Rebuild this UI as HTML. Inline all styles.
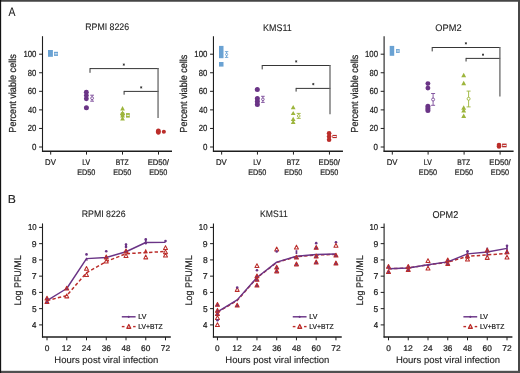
<!DOCTYPE html>
<html><head><meta charset="utf-8"><style>
html,body{margin:0;padding:0;background:#fff;width:520px;height:373px;overflow:hidden}
svg{display:block;font-family:"Liberation Sans", sans-serif;will-change:transform;filter:blur(0.3px)}
</style></head><body>
<svg width="520" height="373" viewBox="0 0 520 373" font-family="Liberation Sans, sans-serif" text-rendering="geometricPrecision">
<rect x="0" y="0" width="520" height="373" fill="#ffffff"/>
<text x="8.38" y="15.70" font-size="12.35" textLength="6.94" lengthAdjust="spacingAndGlyphs" fill="#222" stroke="#222" stroke-width="0.1">A</text>
<text x="7.80" y="203.00" font-size="11.63" textLength="8.15" lengthAdjust="spacingAndGlyphs" fill="#222" stroke="#222" stroke-width="0.1">B</text>
<line x1="42.50" y1="36.20" x2="42.50" y2="151.75" stroke="#1e1e1e" stroke-width="1.1" />
<line x1="41.95" y1="151.20" x2="172.00" y2="151.20" stroke="#1e1e1e" stroke-width="1.35" />
<line x1="39.10" y1="147.00" x2="42.50" y2="147.00" stroke="#1e1e1e" stroke-width="1.0" />
<text x="31.99" y="150.05" font-size="8.87" textLength="4.42" lengthAdjust="spacingAndGlyphs" fill="#222" stroke="#222" stroke-width="0.22">0</text>
<line x1="39.10" y1="128.44" x2="42.50" y2="128.44" stroke="#1e1e1e" stroke-width="1.0" />
<text x="27.81" y="131.49" font-size="8.87" textLength="8.59" lengthAdjust="spacingAndGlyphs" fill="#222" stroke="#222" stroke-width="0.22">20</text>
<line x1="39.10" y1="109.88" x2="42.50" y2="109.88" stroke="#1e1e1e" stroke-width="1.0" />
<text x="28.03" y="112.93" font-size="8.87" textLength="8.37" lengthAdjust="spacingAndGlyphs" fill="#222" stroke="#222" stroke-width="0.22">40</text>
<line x1="39.10" y1="91.32" x2="42.50" y2="91.32" stroke="#1e1e1e" stroke-width="1.0" />
<text x="27.81" y="94.37" font-size="8.87" textLength="8.59" lengthAdjust="spacingAndGlyphs" fill="#222" stroke="#222" stroke-width="0.22">60</text>
<line x1="39.10" y1="72.76" x2="42.50" y2="72.76" stroke="#1e1e1e" stroke-width="1.0" />
<text x="27.87" y="75.81" font-size="8.87" textLength="8.53" lengthAdjust="spacingAndGlyphs" fill="#222" stroke="#222" stroke-width="0.22">80</text>
<line x1="39.10" y1="54.20" x2="42.50" y2="54.20" stroke="#1e1e1e" stroke-width="1.0" />
<text x="23.41" y="57.25" font-size="8.87" textLength="13.00" lengthAdjust="spacingAndGlyphs" fill="#222" stroke="#222" stroke-width="0.22">100</text>
<line x1="50.70" y1="151.20" x2="50.70" y2="154.60" stroke="#1e1e1e" stroke-width="1.0" />
<line x1="86.50" y1="151.20" x2="86.50" y2="154.60" stroke="#1e1e1e" stroke-width="1.0" />
<line x1="122.50" y1="151.20" x2="122.50" y2="154.60" stroke="#1e1e1e" stroke-width="1.0" />
<line x1="158.50" y1="151.20" x2="158.50" y2="154.60" stroke="#1e1e1e" stroke-width="1.0" />
<text x="45.06" y="164.80" font-size="8.28" textLength="10.77" lengthAdjust="spacingAndGlyphs" fill="#222" stroke="#222" stroke-width="0.22">DV</text>
<text x="82.27" y="164.80" font-size="8.14" textLength="7.86" lengthAdjust="spacingAndGlyphs" fill="#222" stroke="#222" stroke-width="0.22">LV</text>
<text x="77.20" y="174.90" font-size="8.14" textLength="18.18" lengthAdjust="spacingAndGlyphs" fill="#222" stroke="#222" stroke-width="0.22">ED50</text>
<text x="115.74" y="164.80" font-size="8.14" textLength="12.87" lengthAdjust="spacingAndGlyphs" fill="#222" stroke="#222" stroke-width="0.22">BTZ</text>
<text x="113.20" y="174.90" font-size="8.14" textLength="18.18" lengthAdjust="spacingAndGlyphs" fill="#222" stroke="#222" stroke-width="0.22">ED50</text>
<text x="147.67" y="164.80" font-size="8.14" textLength="21.33" lengthAdjust="spacingAndGlyphs" fill="#222" stroke="#222" stroke-width="0.22">ED50/</text>
<text x="149.20" y="174.90" font-size="8.14" textLength="18.18" lengthAdjust="spacingAndGlyphs" fill="#222" stroke="#222" stroke-width="0.22">ED50</text>
<g transform="translate(16.20,132.65) rotate(-90)"><text x="0" y="0" font-size="10.17" textLength="78.48" lengthAdjust="spacingAndGlyphs" fill="#222" stroke="#222" stroke-width="0.22">Percent viable cells</text></g>
<text x="85.28" y="30.40" font-size="9.59" textLength="43.80" lengthAdjust="spacingAndGlyphs" fill="#222" stroke="#222" stroke-width="0.1">RPMI 8226</text>
<rect x="48.00" y="50.00" width="4.90" height="6.80" fill="#6aa2d3"/>
<rect x="54.00" y="51.80" width="4.00" height="4.10" fill="#6aa2d3"/>
<rect x="54.60" y="53.35" width="3.00" height="1.00" fill="#eef3f8"/>
<circle cx="86.35" cy="92.15" r="2.45" fill="#6a3486" stroke="none" stroke-width="0"/>
<circle cx="86.35" cy="95.50" r="2.45" fill="#6a3486" stroke="none" stroke-width="0"/>
<circle cx="86.35" cy="98.85" r="2.45" fill="#6a3486" stroke="none" stroke-width="0"/>
<circle cx="86.40" cy="107.80" r="2.50" fill="#6a3486" stroke="none" stroke-width="0"/>
<line x1="92.10" y1="95.20" x2="92.10" y2="101.20" stroke="#7a4a98" stroke-width="0.9" />
<line x1="90.20" y1="95.20" x2="94.00" y2="95.20" stroke="#7a4a98" stroke-width="0.9" />
<line x1="90.20" y1="101.20" x2="94.00" y2="101.20" stroke="#7a4a98" stroke-width="0.9" />
<circle cx="92.10" cy="98.20" r="1.40" fill="white" stroke="#7a4a98" stroke-width="0.9"/>
<path d="M122.55,106.00 L124.90,110.40 L120.20,110.40 Z" fill="#9db53c" stroke="none" stroke-width="0" stroke-linejoin="round"/>
<path d="M122.55,110.60 L124.90,115.00 L120.20,115.00 Z" fill="#9db53c" stroke="none" stroke-width="0" stroke-linejoin="round"/>
<path d="M122.55,113.00 L124.90,117.40 L120.20,117.40 Z" fill="#9db53c" stroke="none" stroke-width="0" stroke-linejoin="round"/>
<path d="M122.55,116.10 L124.90,120.50 L120.20,120.50 Z" fill="#9db53c" stroke="none" stroke-width="0" stroke-linejoin="round"/>
<ellipse cx="122.55" cy="114.3" rx="2.2" ry="2.6" fill="#9db53c"/>
<rect x="126.00" y="113.10" width="3.80" height="4.50" fill="#9db53c"/>
<rect x="126.60" y="114.85" width="2.80" height="1.00" fill="#eef3f8"/>
<ellipse cx="158.35" cy="131.55" rx="2.5" ry="3.15" fill="#bb2d2a"/>
<circle cx="163.85" cy="131.75" r="2.05" fill="#bb2d2a" stroke="none" stroke-width="0"/>
<line x1="90.00" y1="68.60" x2="158.60" y2="68.60" stroke="#363636" stroke-width="1" />
<line x1="90.00" y1="68.10" x2="90.00" y2="72.80" stroke="#363636" stroke-width="1" />
<line x1="124.10" y1="91.40" x2="158.60" y2="91.40" stroke="#363636" stroke-width="1" />
<line x1="124.10" y1="90.90" x2="124.10" y2="94.70" stroke="#363636" stroke-width="1" />
<line x1="158.05" y1="68.10" x2="158.05" y2="118.00" stroke="#686868" stroke-width="1.3" />
<path d="M123.80,63.45 L123.80,65.75 M124.80,64.02 L122.80,65.17 M124.80,65.17 L122.80,64.02 " stroke="#2a2a2a" stroke-width="0.75" fill="none"/>
<path d="M141.20,86.25 L141.20,88.55 M142.20,86.83 L140.20,87.98 M142.20,87.98 L140.20,86.83 " stroke="#2a2a2a" stroke-width="0.75" fill="none"/>
<line x1="213.45" y1="36.20" x2="213.45" y2="151.75" stroke="#1e1e1e" stroke-width="1.1" />
<line x1="212.90" y1="151.20" x2="342.95" y2="151.20" stroke="#1e1e1e" stroke-width="1.35" />
<line x1="210.05" y1="147.00" x2="213.45" y2="147.00" stroke="#1e1e1e" stroke-width="1.0" />
<text x="202.94" y="150.05" font-size="8.87" textLength="4.42" lengthAdjust="spacingAndGlyphs" fill="#222" stroke="#222" stroke-width="0.22">0</text>
<line x1="210.05" y1="128.44" x2="213.45" y2="128.44" stroke="#1e1e1e" stroke-width="1.0" />
<text x="198.76" y="131.49" font-size="8.87" textLength="8.59" lengthAdjust="spacingAndGlyphs" fill="#222" stroke="#222" stroke-width="0.22">20</text>
<line x1="210.05" y1="109.88" x2="213.45" y2="109.88" stroke="#1e1e1e" stroke-width="1.0" />
<text x="198.98" y="112.93" font-size="8.87" textLength="8.37" lengthAdjust="spacingAndGlyphs" fill="#222" stroke="#222" stroke-width="0.22">40</text>
<line x1="210.05" y1="91.32" x2="213.45" y2="91.32" stroke="#1e1e1e" stroke-width="1.0" />
<text x="198.76" y="94.37" font-size="8.87" textLength="8.59" lengthAdjust="spacingAndGlyphs" fill="#222" stroke="#222" stroke-width="0.22">60</text>
<line x1="210.05" y1="72.76" x2="213.45" y2="72.76" stroke="#1e1e1e" stroke-width="1.0" />
<text x="198.82" y="75.81" font-size="8.87" textLength="8.53" lengthAdjust="spacingAndGlyphs" fill="#222" stroke="#222" stroke-width="0.22">80</text>
<line x1="210.05" y1="54.20" x2="213.45" y2="54.20" stroke="#1e1e1e" stroke-width="1.0" />
<text x="194.36" y="57.25" font-size="8.87" textLength="13.00" lengthAdjust="spacingAndGlyphs" fill="#222" stroke="#222" stroke-width="0.22">100</text>
<line x1="221.65" y1="151.20" x2="221.65" y2="154.60" stroke="#1e1e1e" stroke-width="1.0" />
<line x1="257.45" y1="151.20" x2="257.45" y2="154.60" stroke="#1e1e1e" stroke-width="1.0" />
<line x1="293.45" y1="151.20" x2="293.45" y2="154.60" stroke="#1e1e1e" stroke-width="1.0" />
<line x1="329.45" y1="151.20" x2="329.45" y2="154.60" stroke="#1e1e1e" stroke-width="1.0" />
<text x="216.01" y="164.80" font-size="8.28" textLength="10.77" lengthAdjust="spacingAndGlyphs" fill="#222" stroke="#222" stroke-width="0.22">DV</text>
<text x="253.22" y="164.80" font-size="8.14" textLength="7.86" lengthAdjust="spacingAndGlyphs" fill="#222" stroke="#222" stroke-width="0.22">LV</text>
<text x="248.15" y="174.90" font-size="8.14" textLength="18.18" lengthAdjust="spacingAndGlyphs" fill="#222" stroke="#222" stroke-width="0.22">ED50</text>
<text x="286.69" y="164.80" font-size="8.14" textLength="12.87" lengthAdjust="spacingAndGlyphs" fill="#222" stroke="#222" stroke-width="0.22">BTZ</text>
<text x="284.15" y="174.90" font-size="8.14" textLength="18.18" lengthAdjust="spacingAndGlyphs" fill="#222" stroke="#222" stroke-width="0.22">ED50</text>
<text x="318.62" y="164.80" font-size="8.14" textLength="21.33" lengthAdjust="spacingAndGlyphs" fill="#222" stroke="#222" stroke-width="0.22">ED50/</text>
<text x="320.15" y="174.90" font-size="8.14" textLength="18.18" lengthAdjust="spacingAndGlyphs" fill="#222" stroke="#222" stroke-width="0.22">ED50</text>
<g transform="translate(187.15,132.64) rotate(-90)"><text x="0" y="0" font-size="10.17" textLength="77.97" lengthAdjust="spacingAndGlyphs" fill="#222" stroke="#222" stroke-width="0.22">Percent viable cells</text></g>
<text x="263.08" y="30.60" font-size="9.59" textLength="28.64" lengthAdjust="spacingAndGlyphs" fill="#222" stroke="#222" stroke-width="0.1">KMS11</text>
<rect x="219.00" y="45.90" width="4.50" height="12.30" fill="#6aa2d3"/>
<rect x="219.00" y="62.00" width="4.50" height="4.60" fill="#6aa2d3"/>
<line x1="226.60" y1="51.60" x2="226.60" y2="57.40" stroke="#6aa2d3" stroke-width="0.9" />
<line x1="224.90" y1="51.60" x2="228.30" y2="51.60" stroke="#6aa2d3" stroke-width="0.9" />
<line x1="224.90" y1="57.40" x2="228.30" y2="57.40" stroke="#6aa2d3" stroke-width="0.9" />
<circle cx="226.60" cy="54.50" r="1.10" fill="white" stroke="#6aa2d3" stroke-width="0.9"/>
<circle cx="257.30" cy="89.50" r="2.50" fill="#6a3486" stroke="none" stroke-width="0"/>
<circle cx="257.35" cy="98.60" r="2.50" fill="#6a3486" stroke="none" stroke-width="0"/>
<circle cx="257.35" cy="101.55" r="2.50" fill="#6a3486" stroke="none" stroke-width="0"/>
<circle cx="257.35" cy="104.50" r="2.50" fill="#6a3486" stroke="none" stroke-width="0"/>
<line x1="262.90" y1="96.30" x2="262.90" y2="102.40" stroke="#7a4a98" stroke-width="0.9" />
<line x1="261.10" y1="96.30" x2="264.70" y2="96.30" stroke="#7a4a98" stroke-width="0.9" />
<line x1="261.10" y1="102.40" x2="264.70" y2="102.40" stroke="#7a4a98" stroke-width="0.9" />
<circle cx="262.90" cy="99.30" r="1.30" fill="white" stroke="#7a4a98" stroke-width="0.9"/>
<path d="M293.20,105.10 L295.60,109.30 L290.80,109.30 Z" fill="#9db53c" stroke="none" stroke-width="0" stroke-linejoin="round"/>
<path d="M293.20,110.90 L295.60,115.10 L290.80,115.10 Z" fill="#9db53c" stroke="none" stroke-width="0" stroke-linejoin="round"/>
<path d="M293.20,116.70 L295.60,120.90 L290.80,120.90 Z" fill="#9db53c" stroke="none" stroke-width="0" stroke-linejoin="round"/>
<path d="M293.20,119.80 L295.60,124.00 L290.80,124.00 Z" fill="#9db53c" stroke="none" stroke-width="0" stroke-linejoin="round"/>
<line x1="298.70" y1="113.40" x2="298.70" y2="118.40" stroke="#9db53c" stroke-width="0.9" />
<line x1="296.70" y1="113.40" x2="300.70" y2="113.40" stroke="#9db53c" stroke-width="0.9" />
<line x1="296.70" y1="118.40" x2="300.70" y2="118.40" stroke="#9db53c" stroke-width="0.9" />
<circle cx="298.70" cy="115.90" r="1.30" fill="white" stroke="#9db53c" stroke-width="0.9"/>
<circle cx="329.10" cy="133.30" r="2.30" fill="#bb2d2a" stroke="none" stroke-width="0"/>
<circle cx="329.10" cy="136.55" r="2.30" fill="#bb2d2a" stroke="none" stroke-width="0"/>
<circle cx="329.10" cy="139.80" r="2.30" fill="#bb2d2a" stroke="none" stroke-width="0"/>
<rect x="332.40" y="134.90" width="4.40" height="3.20" fill="#bb2d2a"/>
<rect x="333.00" y="136.00" width="3.40" height="1.00" fill="#eef3f8"/>
<line x1="262.20" y1="65.50" x2="330.40" y2="65.50" stroke="#363636" stroke-width="1" />
<line x1="262.20" y1="65.00" x2="262.20" y2="69.40" stroke="#363636" stroke-width="1" />
<line x1="296.10" y1="88.40" x2="330.40" y2="88.40" stroke="#363636" stroke-width="1" />
<line x1="296.10" y1="87.90" x2="296.10" y2="91.60" stroke="#363636" stroke-width="1" />
<line x1="330.00" y1="64.90" x2="330.00" y2="114.30" stroke="#686868" stroke-width="1.3" />
<path d="M296.20,60.25 L296.20,62.55 M297.20,60.82 L295.20,61.98 M297.20,61.98 L295.20,60.82 " stroke="#2a2a2a" stroke-width="0.75" fill="none"/>
<path d="M313.30,82.95 L313.30,85.25 M314.30,83.52 L312.30,84.67 M314.30,84.67 L312.30,83.52 " stroke="#2a2a2a" stroke-width="0.75" fill="none"/>
<line x1="384.10" y1="36.20" x2="384.10" y2="151.75" stroke="#1e1e1e" stroke-width="1.1" />
<line x1="383.55" y1="151.20" x2="513.60" y2="151.20" stroke="#1e1e1e" stroke-width="1.35" />
<line x1="380.70" y1="147.00" x2="384.10" y2="147.00" stroke="#1e1e1e" stroke-width="1.0" />
<text x="373.59" y="150.05" font-size="8.87" textLength="4.42" lengthAdjust="spacingAndGlyphs" fill="#222" stroke="#222" stroke-width="0.22">0</text>
<line x1="380.70" y1="128.44" x2="384.10" y2="128.44" stroke="#1e1e1e" stroke-width="1.0" />
<text x="369.41" y="131.49" font-size="8.87" textLength="8.59" lengthAdjust="spacingAndGlyphs" fill="#222" stroke="#222" stroke-width="0.22">20</text>
<line x1="380.70" y1="109.88" x2="384.10" y2="109.88" stroke="#1e1e1e" stroke-width="1.0" />
<text x="369.63" y="112.93" font-size="8.87" textLength="8.37" lengthAdjust="spacingAndGlyphs" fill="#222" stroke="#222" stroke-width="0.22">40</text>
<line x1="380.70" y1="91.32" x2="384.10" y2="91.32" stroke="#1e1e1e" stroke-width="1.0" />
<text x="369.41" y="94.37" font-size="8.87" textLength="8.59" lengthAdjust="spacingAndGlyphs" fill="#222" stroke="#222" stroke-width="0.22">60</text>
<line x1="380.70" y1="72.76" x2="384.10" y2="72.76" stroke="#1e1e1e" stroke-width="1.0" />
<text x="369.47" y="75.81" font-size="8.87" textLength="8.53" lengthAdjust="spacingAndGlyphs" fill="#222" stroke="#222" stroke-width="0.22">80</text>
<line x1="380.70" y1="54.20" x2="384.10" y2="54.20" stroke="#1e1e1e" stroke-width="1.0" />
<text x="365.01" y="57.25" font-size="8.87" textLength="13.00" lengthAdjust="spacingAndGlyphs" fill="#222" stroke="#222" stroke-width="0.22">100</text>
<line x1="392.30" y1="151.20" x2="392.30" y2="154.60" stroke="#1e1e1e" stroke-width="1.0" />
<line x1="428.10" y1="151.20" x2="428.10" y2="154.60" stroke="#1e1e1e" stroke-width="1.0" />
<line x1="464.10" y1="151.20" x2="464.10" y2="154.60" stroke="#1e1e1e" stroke-width="1.0" />
<line x1="500.10" y1="151.20" x2="500.10" y2="154.60" stroke="#1e1e1e" stroke-width="1.0" />
<text x="386.66" y="164.80" font-size="8.28" textLength="10.77" lengthAdjust="spacingAndGlyphs" fill="#222" stroke="#222" stroke-width="0.22">DV</text>
<text x="423.87" y="164.80" font-size="8.14" textLength="7.86" lengthAdjust="spacingAndGlyphs" fill="#222" stroke="#222" stroke-width="0.22">LV</text>
<text x="418.80" y="174.90" font-size="8.14" textLength="18.18" lengthAdjust="spacingAndGlyphs" fill="#222" stroke="#222" stroke-width="0.22">ED50</text>
<text x="457.34" y="164.80" font-size="8.14" textLength="12.87" lengthAdjust="spacingAndGlyphs" fill="#222" stroke="#222" stroke-width="0.22">BTZ</text>
<text x="454.80" y="174.90" font-size="8.14" textLength="18.18" lengthAdjust="spacingAndGlyphs" fill="#222" stroke="#222" stroke-width="0.22">ED50</text>
<text x="489.27" y="164.80" font-size="8.14" textLength="21.33" lengthAdjust="spacingAndGlyphs" fill="#222" stroke="#222" stroke-width="0.22">ED50/</text>
<text x="490.80" y="174.90" font-size="8.14" textLength="18.18" lengthAdjust="spacingAndGlyphs" fill="#222" stroke="#222" stroke-width="0.22">ED50</text>
<g transform="translate(357.80,132.64) rotate(-90)"><text x="0" y="0" font-size="10.17" textLength="77.97" lengthAdjust="spacingAndGlyphs" fill="#222" stroke="#222" stroke-width="0.22">Percent viable cells</text></g>
<text x="435.36" y="31.00" font-size="9.59" textLength="26.20" lengthAdjust="spacingAndGlyphs" fill="#222" stroke="#222" stroke-width="0.1">OPM2</text>
<rect x="389.70" y="45.90" width="4.50" height="9.90" fill="#6aa2d3"/>
<rect x="396.00" y="49.10" width="3.70" height="3.80" fill="#6aa2d3"/>
<rect x="396.60" y="50.50" width="2.70" height="1.00" fill="#eef3f8"/>
<circle cx="427.90" cy="83.60" r="2.45" fill="#6a3486" stroke="none" stroke-width="0"/>
<circle cx="427.90" cy="88.10" r="2.45" fill="#6a3486" stroke="none" stroke-width="0"/>
<circle cx="427.90" cy="106.30" r="2.50" fill="#6a3486" stroke="none" stroke-width="0"/>
<circle cx="427.90" cy="108.45" r="2.50" fill="#6a3486" stroke="none" stroke-width="0"/>
<circle cx="427.90" cy="110.60" r="2.50" fill="#6a3486" stroke="none" stroke-width="0"/>
<line x1="433.10" y1="93.50" x2="433.10" y2="105.30" stroke="#7a4a98" stroke-width="0.9" />
<line x1="431.10" y1="93.50" x2="435.10" y2="93.50" stroke="#7a4a98" stroke-width="0.9" />
<line x1="431.10" y1="105.30" x2="435.10" y2="105.30" stroke="#7a4a98" stroke-width="0.9" />
<circle cx="433.10" cy="99.50" r="1.50" fill="white" stroke="#7a4a98" stroke-width="0.9"/>
<path d="M463.70,72.85 L466.15,77.35 L461.25,77.35 Z" fill="#9db53c" stroke="none" stroke-width="0" stroke-linejoin="round"/>
<path d="M463.70,80.75 L466.15,85.25 L461.25,85.25 Z" fill="#9db53c" stroke="none" stroke-width="0" stroke-linejoin="round"/>
<path d="M463.70,105.35 L466.15,109.85 L461.25,109.85 Z" fill="#9db53c" stroke="none" stroke-width="0" stroke-linejoin="round"/>
<path d="M463.70,107.95 L466.15,112.45 L461.25,112.45 Z" fill="#9db53c" stroke="none" stroke-width="0" stroke-linejoin="round"/>
<path d="M463.70,113.55 L466.15,118.05 L461.25,118.05 Z" fill="#9db53c" stroke="none" stroke-width="0" stroke-linejoin="round"/>
<line x1="468.60" y1="91.10" x2="468.60" y2="106.90" stroke="#9db53c" stroke-width="0.9" />
<line x1="466.60" y1="91.10" x2="470.60" y2="91.10" stroke="#9db53c" stroke-width="0.9" />
<line x1="466.60" y1="106.90" x2="470.60" y2="106.90" stroke="#9db53c" stroke-width="0.9" />
<circle cx="468.60" cy="98.80" r="1.50" fill="white" stroke="#9db53c" stroke-width="0.9"/>
<circle cx="499.00" cy="145.05" r="2.30" fill="#bb2d2a" stroke="none" stroke-width="0"/>
<circle cx="499.00" cy="146.45" r="2.30" fill="#bb2d2a" stroke="none" stroke-width="0"/>
<rect x="502.10" y="143.60" width="4.50" height="3.70" fill="#bb2d2a"/>
<rect x="502.70" y="144.95" width="3.50" height="1.00" fill="#eef3f8"/>
<line x1="432.20" y1="47.50" x2="500.20" y2="47.50" stroke="#363636" stroke-width="1" />
<line x1="432.20" y1="47.00" x2="432.20" y2="51.40" stroke="#363636" stroke-width="1" />
<line x1="466.05" y1="58.40" x2="500.20" y2="58.40" stroke="#363636" stroke-width="1" />
<line x1="466.05" y1="57.90" x2="466.05" y2="61.50" stroke="#363636" stroke-width="1" />
<line x1="499.90" y1="46.90" x2="499.90" y2="96.40" stroke="#686868" stroke-width="1.3" />
<path d="M465.90,42.15 L465.90,44.45 M466.90,42.72 L464.90,43.88 M466.90,43.88 L464.90,42.72 " stroke="#2a2a2a" stroke-width="0.75" fill="none"/>
<path d="M483.00,53.55 L483.00,55.85 M484.00,54.12 L482.00,55.28 M484.00,55.28 L482.00,54.12 " stroke="#2a2a2a" stroke-width="0.75" fill="none"/>
<line x1="42.50" y1="223.40" x2="42.50" y2="337.55" stroke="#1e1e1e" stroke-width="1.1" />
<line x1="41.95" y1="337.00" x2="170.80" y2="337.00" stroke="#1e1e1e" stroke-width="1.45" />
<line x1="39.10" y1="324.90" x2="42.50" y2="324.90" stroke="#1e1e1e" stroke-width="1.0" />
<text x="32.12" y="327.85" font-size="8.58" textLength="4.41" lengthAdjust="spacingAndGlyphs" fill="#222" stroke="#222" stroke-width="0.22">4</text>
<line x1="39.10" y1="308.65" x2="42.50" y2="308.65" stroke="#1e1e1e" stroke-width="1.0" />
<text x="31.96" y="311.60" font-size="8.58" textLength="4.69" lengthAdjust="spacingAndGlyphs" fill="#222" stroke="#222" stroke-width="0.22">5</text>
<line x1="39.10" y1="292.40" x2="42.50" y2="292.40" stroke="#1e1e1e" stroke-width="1.0" />
<text x="31.86" y="295.35" font-size="8.58" textLength="4.82" lengthAdjust="spacingAndGlyphs" fill="#222" stroke="#222" stroke-width="0.22">6</text>
<line x1="39.10" y1="276.15" x2="42.50" y2="276.15" stroke="#1e1e1e" stroke-width="1.0" />
<text x="31.85" y="279.10" font-size="8.58" textLength="4.89" lengthAdjust="spacingAndGlyphs" fill="#222" stroke="#222" stroke-width="0.22">7</text>
<line x1="39.10" y1="259.90" x2="42.50" y2="259.90" stroke="#1e1e1e" stroke-width="1.0" />
<text x="31.93" y="262.85" font-size="8.58" textLength="4.74" lengthAdjust="spacingAndGlyphs" fill="#222" stroke="#222" stroke-width="0.22">8</text>
<line x1="39.10" y1="243.65" x2="42.50" y2="243.65" stroke="#1e1e1e" stroke-width="1.0" />
<text x="31.89" y="246.60" font-size="8.58" textLength="4.82" lengthAdjust="spacingAndGlyphs" fill="#222" stroke="#222" stroke-width="0.22">9</text>
<line x1="39.10" y1="227.40" x2="42.50" y2="227.40" stroke="#1e1e1e" stroke-width="1.0" />
<text x="27.90" y="230.35" font-size="8.58" textLength="8.70" lengthAdjust="spacingAndGlyphs" fill="#222" stroke="#222" stroke-width="0.22">10</text>
<line x1="47.00" y1="337.00" x2="47.00" y2="340.30" stroke="#1e1e1e" stroke-width="1.0" />
<text x="44.67" y="350.80" font-size="8.28" textLength="4.65" lengthAdjust="spacingAndGlyphs" fill="#222" stroke="#222" stroke-width="0.22">0</text>
<line x1="66.75" y1="337.00" x2="66.75" y2="340.30" stroke="#1e1e1e" stroke-width="1.0" />
<text x="61.84" y="350.80" font-size="8.28" textLength="9.59" lengthAdjust="spacingAndGlyphs" fill="#222" stroke="#222" stroke-width="0.22">12</text>
<line x1="86.50" y1="337.00" x2="86.50" y2="340.30" stroke="#1e1e1e" stroke-width="1.0" />
<text x="81.84" y="350.80" font-size="8.28" textLength="9.16" lengthAdjust="spacingAndGlyphs" fill="#222" stroke="#222" stroke-width="0.22">24</text>
<line x1="106.25" y1="337.00" x2="106.25" y2="340.30" stroke="#1e1e1e" stroke-width="1.0" />
<text x="101.69" y="350.80" font-size="8.28" textLength="9.18" lengthAdjust="spacingAndGlyphs" fill="#222" stroke="#222" stroke-width="0.22">36</text>
<line x1="126.00" y1="337.00" x2="126.00" y2="340.30" stroke="#1e1e1e" stroke-width="1.0" />
<text x="121.56" y="350.80" font-size="8.28" textLength="9.04" lengthAdjust="spacingAndGlyphs" fill="#222" stroke="#222" stroke-width="0.22">48</text>
<line x1="145.75" y1="337.00" x2="145.75" y2="340.30" stroke="#1e1e1e" stroke-width="1.0" />
<text x="141.08" y="350.80" font-size="8.28" textLength="9.25" lengthAdjust="spacingAndGlyphs" fill="#222" stroke="#222" stroke-width="0.22">60</text>
<line x1="165.50" y1="337.00" x2="165.50" y2="340.30" stroke="#1e1e1e" stroke-width="1.0" />
<text x="160.82" y="350.80" font-size="8.28" textLength="9.35" lengthAdjust="spacingAndGlyphs" fill="#222" stroke="#222" stroke-width="0.22">72</text>
<text x="54.32" y="362.60" font-size="9.45" textLength="104.10" lengthAdjust="spacingAndGlyphs" fill="#222" stroke="#222" stroke-width="0.12">Hours post viral infection</text>
<g transform="translate(21.40,305.43) rotate(-90)"><text x="0" y="0" font-size="9.59" textLength="50.13" lengthAdjust="spacingAndGlyphs" fill="#222" stroke="#222" stroke-width="0.22">Log PFU/ML</text></g>
<text x="81.78" y="217.10" font-size="9.30" textLength="43.80" lengthAdjust="spacingAndGlyphs" fill="#222" stroke="#222" stroke-width="0.1">RPMI 8226</text>
<line x1="121.80" y1="316.80" x2="135.60" y2="316.80" stroke="#6a3486" stroke-width="1.45" />
<circle cx="128.70" cy="316.80" r="1.10" fill="#6a3486" stroke="none" stroke-width="0"/>
<text x="138.37" y="318.80" font-size="7.12" textLength="7.96" lengthAdjust="spacingAndGlyphs" fill="#222" stroke="#222" stroke-width="0.22">LV</text>
<line x1="121.80" y1="326.60" x2="124.50" y2="326.60" stroke="#bb2d2a" stroke-width="1.4" />
<line x1="133.10" y1="326.60" x2="135.60" y2="326.60" stroke="#bb2d2a" stroke-width="1.4" />
<path d="M128.80,324.55 L130.75,328.25 L126.85,328.25 Z" fill="white" stroke="#bb2d2a" stroke-width="1.3" stroke-linejoin="round"/>
<text x="138.36" y="329.20" font-size="7.27" textLength="24.35" lengthAdjust="spacingAndGlyphs" fill="#222" stroke="#222" stroke-width="0.22">LV+BTZ</text>
<polyline points="47.00,300.52 66.75,295.65 86.50,272.74 106.25,261.52 126.00,253.72 145.75,252.59 165.50,251.45" fill="none" stroke="#bb2d2a" stroke-width="1.5" stroke-dasharray="3.4,2.2"/>
<polyline points="47.00,300.52 66.75,288.50 86.50,258.60 106.25,257.46 126.00,251.77 145.75,242.51 165.50,242.35" fill="none" stroke="#6a3486" stroke-width="1.45" stroke-linejoin="round"/>
<path d="M47.00,296.19 L49.00,299.99 L45.00,299.99 Z" fill="#6a3486" stroke="#bb2d2a" stroke-width="1.05" stroke-linejoin="round"/>
<path d="M47.00,299.60 L49.00,303.40 L45.00,303.40 Z" fill="#6a3486" stroke="#bb2d2a" stroke-width="1.05" stroke-linejoin="round"/>
<path d="M66.75,286.27 L68.75,290.07 L64.75,290.07 Z" fill="#6a3486" stroke="#bb2d2a" stroke-width="1.05" stroke-linejoin="round"/>
<path d="M66.75,294.07 L68.75,297.87 L64.75,297.87 Z" fill="white" stroke="#bb2d2a" stroke-width="1.05" stroke-linejoin="round"/>
<circle cx="86.50" cy="254.38" r="1.30" fill="#6a3486" stroke="none" stroke-width="0"/>
<path d="M86.50,257.22 L88.00,260.62 L85.00,260.62 Z" fill="#6a3486" stroke="none" stroke-width="0" stroke-linejoin="round"/>
<path d="M86.50,266.45 L88.50,270.25 L84.50,270.25 Z" fill="white" stroke="#bb2d2a" stroke-width="1.05" stroke-linejoin="round"/>
<path d="M86.50,272.62 L88.50,276.42 L84.50,276.42 Z" fill="white" stroke="#bb2d2a" stroke-width="1.05" stroke-linejoin="round"/>
<circle cx="106.25" cy="251.29" r="1.30" fill="#6a3486" stroke="none" stroke-width="0"/>
<path d="M106.25,255.07 L108.25,258.87 L104.25,258.87 Z" fill="#6a3486" stroke="#bb2d2a" stroke-width="1.05" stroke-linejoin="round"/>
<path d="M106.25,259.14 L108.25,262.94 L104.25,262.94 Z" fill="white" stroke="#bb2d2a" stroke-width="1.05" stroke-linejoin="round"/>
<line x1="126.00" y1="243.80" x2="126.00" y2="247.50" stroke="#6a3486" stroke-width="1.7" />
<circle cx="126.00" cy="244.46" r="1.30" fill="#6a3486" stroke="none" stroke-width="0"/>
<circle cx="126.00" cy="246.90" r="1.30" fill="#6a3486" stroke="none" stroke-width="0"/>
<path d="M126.00,249.06 L128.00,252.86 L124.00,252.86 Z" fill="#6a3486" stroke="#bb2d2a" stroke-width="1.05" stroke-linejoin="round"/>
<path d="M126.00,253.77 L128.00,257.57 L124.00,257.57 Z" fill="white" stroke="#bb2d2a" stroke-width="1.05" stroke-linejoin="round"/>
<line x1="145.75" y1="238.80" x2="145.75" y2="244.30" stroke="#6a3486" stroke-width="1.7" />
<circle cx="145.75" cy="239.42" r="1.30" fill="#6a3486" stroke="none" stroke-width="0"/>
<circle cx="145.75" cy="243.00" r="1.30" fill="#6a3486" stroke="none" stroke-width="0"/>
<path d="M145.75,248.76 L147.95,253.16 L143.55,253.16 Z" fill="#bb2d2a" stroke="none" stroke-width="0" stroke-linejoin="round"/>
<path d="M145.75,255.07 L147.75,258.87 L143.75,258.87 Z" fill="white" stroke="#bb2d2a" stroke-width="1.05" stroke-linejoin="round"/>
<circle cx="165.50" cy="241.05" r="1.30" fill="#6a3486" stroke="none" stroke-width="0"/>
<path d="M165.50,245.65 L167.50,249.45 L163.50,249.45 Z" fill="white" stroke="#bb2d2a" stroke-width="1.05" stroke-linejoin="round"/>
<path d="M165.50,249.87 L167.50,253.67 L163.50,253.67 Z" fill="white" stroke="#bb2d2a" stroke-width="1.05" stroke-linejoin="round"/>
<path d="M165.50,253.12 L167.50,256.92 L163.50,256.92 Z" fill="white" stroke="#bb2d2a" stroke-width="1.05" stroke-linejoin="round"/>
<line x1="213.45" y1="223.40" x2="213.45" y2="337.55" stroke="#1e1e1e" stroke-width="1.1" />
<line x1="212.90" y1="337.00" x2="341.75" y2="337.00" stroke="#1e1e1e" stroke-width="1.45" />
<line x1="210.05" y1="324.90" x2="213.45" y2="324.90" stroke="#1e1e1e" stroke-width="1.0" />
<text x="203.07" y="327.85" font-size="8.58" textLength="4.41" lengthAdjust="spacingAndGlyphs" fill="#222" stroke="#222" stroke-width="0.22">4</text>
<line x1="210.05" y1="308.65" x2="213.45" y2="308.65" stroke="#1e1e1e" stroke-width="1.0" />
<text x="202.91" y="311.60" font-size="8.58" textLength="4.69" lengthAdjust="spacingAndGlyphs" fill="#222" stroke="#222" stroke-width="0.22">5</text>
<line x1="210.05" y1="292.40" x2="213.45" y2="292.40" stroke="#1e1e1e" stroke-width="1.0" />
<text x="202.81" y="295.35" font-size="8.58" textLength="4.82" lengthAdjust="spacingAndGlyphs" fill="#222" stroke="#222" stroke-width="0.22">6</text>
<line x1="210.05" y1="276.15" x2="213.45" y2="276.15" stroke="#1e1e1e" stroke-width="1.0" />
<text x="202.80" y="279.10" font-size="8.58" textLength="4.89" lengthAdjust="spacingAndGlyphs" fill="#222" stroke="#222" stroke-width="0.22">7</text>
<line x1="210.05" y1="259.90" x2="213.45" y2="259.90" stroke="#1e1e1e" stroke-width="1.0" />
<text x="202.88" y="262.85" font-size="8.58" textLength="4.74" lengthAdjust="spacingAndGlyphs" fill="#222" stroke="#222" stroke-width="0.22">8</text>
<line x1="210.05" y1="243.65" x2="213.45" y2="243.65" stroke="#1e1e1e" stroke-width="1.0" />
<text x="202.84" y="246.60" font-size="8.58" textLength="4.82" lengthAdjust="spacingAndGlyphs" fill="#222" stroke="#222" stroke-width="0.22">9</text>
<line x1="210.05" y1="227.40" x2="213.45" y2="227.40" stroke="#1e1e1e" stroke-width="1.0" />
<text x="198.85" y="230.35" font-size="8.58" textLength="8.70" lengthAdjust="spacingAndGlyphs" fill="#222" stroke="#222" stroke-width="0.22">10</text>
<line x1="217.45" y1="337.00" x2="217.45" y2="340.30" stroke="#1e1e1e" stroke-width="1.0" />
<text x="215.12" y="350.80" font-size="8.28" textLength="4.65" lengthAdjust="spacingAndGlyphs" fill="#222" stroke="#222" stroke-width="0.22">0</text>
<line x1="237.20" y1="337.00" x2="237.20" y2="340.30" stroke="#1e1e1e" stroke-width="1.0" />
<text x="232.29" y="350.80" font-size="8.28" textLength="9.59" lengthAdjust="spacingAndGlyphs" fill="#222" stroke="#222" stroke-width="0.22">12</text>
<line x1="256.95" y1="337.00" x2="256.95" y2="340.30" stroke="#1e1e1e" stroke-width="1.0" />
<text x="252.29" y="350.80" font-size="8.28" textLength="9.16" lengthAdjust="spacingAndGlyphs" fill="#222" stroke="#222" stroke-width="0.22">24</text>
<line x1="276.70" y1="337.00" x2="276.70" y2="340.30" stroke="#1e1e1e" stroke-width="1.0" />
<text x="272.14" y="350.80" font-size="8.28" textLength="9.18" lengthAdjust="spacingAndGlyphs" fill="#222" stroke="#222" stroke-width="0.22">36</text>
<line x1="296.45" y1="337.00" x2="296.45" y2="340.30" stroke="#1e1e1e" stroke-width="1.0" />
<text x="292.01" y="350.80" font-size="8.28" textLength="9.04" lengthAdjust="spacingAndGlyphs" fill="#222" stroke="#222" stroke-width="0.22">48</text>
<line x1="316.20" y1="337.00" x2="316.20" y2="340.30" stroke="#1e1e1e" stroke-width="1.0" />
<text x="311.53" y="350.80" font-size="8.28" textLength="9.25" lengthAdjust="spacingAndGlyphs" fill="#222" stroke="#222" stroke-width="0.22">60</text>
<line x1="335.95" y1="337.00" x2="335.95" y2="340.30" stroke="#1e1e1e" stroke-width="1.0" />
<text x="331.27" y="350.80" font-size="8.28" textLength="9.35" lengthAdjust="spacingAndGlyphs" fill="#222" stroke="#222" stroke-width="0.22">72</text>
<text x="225.27" y="362.60" font-size="9.45" textLength="104.10" lengthAdjust="spacingAndGlyphs" fill="#222" stroke="#222" stroke-width="0.12">Hours post viral infection</text>
<g transform="translate(192.35,305.43) rotate(-90)"><text x="0" y="0" font-size="9.59" textLength="50.13" lengthAdjust="spacingAndGlyphs" fill="#222" stroke="#222" stroke-width="0.22">Log PFU/ML</text></g>
<text x="260.11" y="217.30" font-size="9.45" textLength="27.60" lengthAdjust="spacingAndGlyphs" fill="#222" stroke="#222" stroke-width="0.1">KMS11</text>
<line x1="292.75" y1="316.80" x2="306.55" y2="316.80" stroke="#6a3486" stroke-width="1.45" />
<circle cx="299.65" cy="316.80" r="1.10" fill="#6a3486" stroke="none" stroke-width="0"/>
<text x="309.32" y="318.80" font-size="7.12" textLength="7.96" lengthAdjust="spacingAndGlyphs" fill="#222" stroke="#222" stroke-width="0.22">LV</text>
<line x1="292.75" y1="326.60" x2="295.45" y2="326.60" stroke="#bb2d2a" stroke-width="1.4" />
<line x1="304.05" y1="326.60" x2="306.55" y2="326.60" stroke="#bb2d2a" stroke-width="1.4" />
<path d="M299.75,324.55 L301.70,328.25 L297.80,328.25 Z" fill="white" stroke="#bb2d2a" stroke-width="1.3" stroke-linejoin="round"/>
<text x="309.31" y="329.20" font-size="7.27" textLength="24.35" lengthAdjust="spacingAndGlyphs" fill="#222" stroke="#222" stroke-width="0.22">LV+BTZ</text>
<polyline points="217.45,312.22 237.20,300.52 256.95,277.77 276.70,262.50 296.45,256.65 316.20,255.02 335.95,254.38" fill="none" stroke="#bb2d2a" stroke-width="1.5" stroke-dasharray="3.4,2.2"/>
<polyline points="217.45,311.90 237.20,299.88 256.95,277.45 276.70,262.17 296.45,256.32 316.20,254.54 335.95,254.05" fill="none" stroke="#6a3486" stroke-width="1.45" stroke-linejoin="round"/>
<path d="M217.45,302.52 L219.45,306.32 L215.45,306.32 Z" fill="#6a3486" stroke="#bb2d2a" stroke-width="1.05" stroke-linejoin="round"/>
<path d="M217.45,308.38 L219.45,312.17 L215.45,312.17 Z" fill="#6a3486" stroke="#bb2d2a" stroke-width="1.05" stroke-linejoin="round"/>
<path d="M217.45,311.62 L219.45,315.42 L215.45,315.42 Z" fill="#6a3486" stroke="#bb2d2a" stroke-width="1.05" stroke-linejoin="round"/>
<path d="M217.45,315.69 L219.45,319.49 L215.45,319.49 Z" fill="white" stroke="#bb2d2a" stroke-width="1.05" stroke-linejoin="round"/>
<circle cx="217.45" cy="320.19" r="1.30" fill="#6a3486" stroke="none" stroke-width="0"/>
<path d="M217.45,322.68 L219.45,326.47 L215.45,326.47 Z" fill="white" stroke="#bb2d2a" stroke-width="1.05" stroke-linejoin="round"/>
<path d="M237.20,287.57 L239.20,291.37 L235.20,291.37 Z" fill="white" stroke="#bb2d2a" stroke-width="1.05" stroke-linejoin="round"/>
<circle cx="237.20" cy="287.52" r="1.30" fill="#6a3486" stroke="none" stroke-width="0"/>
<path d="M237.20,303.18 L239.20,306.97 L235.20,306.97 Z" fill="#6a3486" stroke="#bb2d2a" stroke-width="1.05" stroke-linejoin="round"/>
<path d="M256.95,263.69 L258.95,267.49 L254.95,267.49 Z" fill="white" stroke="#bb2d2a" stroke-width="1.05" stroke-linejoin="round"/>
<circle cx="256.95" cy="270.30" r="1.30" fill="#6a3486" stroke="none" stroke-width="0"/>
<path d="M256.95,273.93 L258.95,277.72 L254.95,277.72 Z" fill="#6a3486" stroke="#bb2d2a" stroke-width="1.05" stroke-linejoin="round"/>
<path d="M256.95,277.50 L258.95,281.30 L254.95,281.30 Z" fill="#6a3486" stroke="#bb2d2a" stroke-width="1.05" stroke-linejoin="round"/>
<path d="M256.95,283.19 L258.95,286.99 L254.95,286.99 Z" fill="#6a3486" stroke="#bb2d2a" stroke-width="1.05" stroke-linejoin="round"/>
<path d="M276.70,247.11 L278.70,250.91 L274.70,250.91 Z" fill="white" stroke="#bb2d2a" stroke-width="1.05" stroke-linejoin="round"/>
<circle cx="276.70" cy="251.45" r="1.30" fill="#6a3486" stroke="none" stroke-width="0"/>
<path d="M276.70,265.15 L278.70,268.95 L274.70,268.95 Z" fill="#6a3486" stroke="#bb2d2a" stroke-width="1.05" stroke-linejoin="round"/>
<path d="M276.70,269.05 L278.70,272.85 L274.70,272.85 Z" fill="#6a3486" stroke="#bb2d2a" stroke-width="1.05" stroke-linejoin="round"/>
<path d="M296.45,245.16 L298.45,248.96 L294.45,248.96 Z" fill="white" stroke="#bb2d2a" stroke-width="1.05" stroke-linejoin="round"/>
<line x1="296.45" y1="250.20" x2="296.45" y2="254.00" stroke="#6a3486" stroke-width="1.7" />
<path d="M296.45,255.24 L298.45,259.04 L294.45,259.04 Z" fill="#6a3486" stroke="#bb2d2a" stroke-width="1.05" stroke-linejoin="round"/>
<path d="M296.45,262.06 L298.45,265.86 L294.45,265.86 Z" fill="#6a3486" stroke="#bb2d2a" stroke-width="1.05" stroke-linejoin="round"/>
<circle cx="316.20" cy="243.16" r="1.30" fill="#6a3486" stroke="none" stroke-width="0"/>
<path d="M316.20,245.49 L318.20,249.29 L314.20,249.29 Z" fill="#6a3486" stroke="#bb2d2a" stroke-width="1.05" stroke-linejoin="round"/>
<path d="M316.20,254.10 L318.20,257.90 L314.20,257.90 Z" fill="#6a3486" stroke="#bb2d2a" stroke-width="1.05" stroke-linejoin="round"/>
<path d="M316.20,260.11 L318.20,263.91 L314.20,263.91 Z" fill="#6a3486" stroke="#bb2d2a" stroke-width="1.05" stroke-linejoin="round"/>
<circle cx="335.95" cy="242.19" r="1.30" fill="#6a3486" stroke="none" stroke-width="0"/>
<path d="M335.95,243.37 L337.95,247.17 L333.95,247.17 Z" fill="white" stroke="#bb2d2a" stroke-width="1.05" stroke-linejoin="round"/>
<path d="M335.95,253.29 L337.95,257.09 L333.95,257.09 Z" fill="#6a3486" stroke="#bb2d2a" stroke-width="1.05" stroke-linejoin="round"/>
<path d="M335.95,261.09 L337.95,264.89 L333.95,264.89 Z" fill="#6a3486" stroke="#bb2d2a" stroke-width="1.05" stroke-linejoin="round"/>
<line x1="384.10" y1="223.40" x2="384.10" y2="337.55" stroke="#1e1e1e" stroke-width="1.1" />
<line x1="383.55" y1="337.00" x2="512.40" y2="337.00" stroke="#1e1e1e" stroke-width="1.45" />
<line x1="380.70" y1="324.90" x2="384.10" y2="324.90" stroke="#1e1e1e" stroke-width="1.0" />
<text x="373.72" y="327.85" font-size="8.58" textLength="4.41" lengthAdjust="spacingAndGlyphs" fill="#222" stroke="#222" stroke-width="0.22">4</text>
<line x1="380.70" y1="308.65" x2="384.10" y2="308.65" stroke="#1e1e1e" stroke-width="1.0" />
<text x="373.56" y="311.60" font-size="8.58" textLength="4.69" lengthAdjust="spacingAndGlyphs" fill="#222" stroke="#222" stroke-width="0.22">5</text>
<line x1="380.70" y1="292.40" x2="384.10" y2="292.40" stroke="#1e1e1e" stroke-width="1.0" />
<text x="373.46" y="295.35" font-size="8.58" textLength="4.82" lengthAdjust="spacingAndGlyphs" fill="#222" stroke="#222" stroke-width="0.22">6</text>
<line x1="380.70" y1="276.15" x2="384.10" y2="276.15" stroke="#1e1e1e" stroke-width="1.0" />
<text x="373.45" y="279.10" font-size="8.58" textLength="4.89" lengthAdjust="spacingAndGlyphs" fill="#222" stroke="#222" stroke-width="0.22">7</text>
<line x1="380.70" y1="259.90" x2="384.10" y2="259.90" stroke="#1e1e1e" stroke-width="1.0" />
<text x="373.53" y="262.85" font-size="8.58" textLength="4.74" lengthAdjust="spacingAndGlyphs" fill="#222" stroke="#222" stroke-width="0.22">8</text>
<line x1="380.70" y1="243.65" x2="384.10" y2="243.65" stroke="#1e1e1e" stroke-width="1.0" />
<text x="373.49" y="246.60" font-size="8.58" textLength="4.82" lengthAdjust="spacingAndGlyphs" fill="#222" stroke="#222" stroke-width="0.22">9</text>
<line x1="380.70" y1="227.40" x2="384.10" y2="227.40" stroke="#1e1e1e" stroke-width="1.0" />
<text x="369.50" y="230.35" font-size="8.58" textLength="8.70" lengthAdjust="spacingAndGlyphs" fill="#222" stroke="#222" stroke-width="0.22">10</text>
<line x1="388.50" y1="337.00" x2="388.50" y2="340.30" stroke="#1e1e1e" stroke-width="1.0" />
<text x="386.17" y="350.80" font-size="8.28" textLength="4.65" lengthAdjust="spacingAndGlyphs" fill="#222" stroke="#222" stroke-width="0.22">0</text>
<line x1="408.25" y1="337.00" x2="408.25" y2="340.30" stroke="#1e1e1e" stroke-width="1.0" />
<text x="403.34" y="350.80" font-size="8.28" textLength="9.59" lengthAdjust="spacingAndGlyphs" fill="#222" stroke="#222" stroke-width="0.22">12</text>
<line x1="428.00" y1="337.00" x2="428.00" y2="340.30" stroke="#1e1e1e" stroke-width="1.0" />
<text x="423.34" y="350.80" font-size="8.28" textLength="9.16" lengthAdjust="spacingAndGlyphs" fill="#222" stroke="#222" stroke-width="0.22">24</text>
<line x1="447.75" y1="337.00" x2="447.75" y2="340.30" stroke="#1e1e1e" stroke-width="1.0" />
<text x="443.19" y="350.80" font-size="8.28" textLength="9.18" lengthAdjust="spacingAndGlyphs" fill="#222" stroke="#222" stroke-width="0.22">36</text>
<line x1="467.50" y1="337.00" x2="467.50" y2="340.30" stroke="#1e1e1e" stroke-width="1.0" />
<text x="463.06" y="350.80" font-size="8.28" textLength="9.04" lengthAdjust="spacingAndGlyphs" fill="#222" stroke="#222" stroke-width="0.22">48</text>
<line x1="487.25" y1="337.00" x2="487.25" y2="340.30" stroke="#1e1e1e" stroke-width="1.0" />
<text x="482.58" y="350.80" font-size="8.28" textLength="9.25" lengthAdjust="spacingAndGlyphs" fill="#222" stroke="#222" stroke-width="0.22">60</text>
<line x1="507.00" y1="337.00" x2="507.00" y2="340.30" stroke="#1e1e1e" stroke-width="1.0" />
<text x="502.32" y="350.80" font-size="8.28" textLength="9.35" lengthAdjust="spacingAndGlyphs" fill="#222" stroke="#222" stroke-width="0.22">72</text>
<text x="395.92" y="362.60" font-size="9.45" textLength="104.10" lengthAdjust="spacingAndGlyphs" fill="#222" stroke="#222" stroke-width="0.12">Hours post viral infection</text>
<g transform="translate(363.00,305.43) rotate(-90)"><text x="0" y="0" font-size="9.59" textLength="50.13" lengthAdjust="spacingAndGlyphs" fill="#222" stroke="#222" stroke-width="0.22">Log PFU/ML</text></g>
<text x="432.47" y="217.70" font-size="9.88" textLength="25.79" lengthAdjust="spacingAndGlyphs" fill="#222" stroke="#222" stroke-width="0.1">OPM2</text>
<line x1="463.40" y1="316.80" x2="477.20" y2="316.80" stroke="#6a3486" stroke-width="1.45" />
<circle cx="470.30" cy="316.80" r="1.10" fill="#6a3486" stroke="none" stroke-width="0"/>
<text x="479.97" y="318.80" font-size="7.12" textLength="7.96" lengthAdjust="spacingAndGlyphs" fill="#222" stroke="#222" stroke-width="0.22">LV</text>
<line x1="463.40" y1="326.60" x2="466.10" y2="326.60" stroke="#bb2d2a" stroke-width="1.4" />
<line x1="474.70" y1="326.60" x2="477.20" y2="326.60" stroke="#bb2d2a" stroke-width="1.4" />
<path d="M470.40,324.55 L472.35,328.25 L468.45,328.25 Z" fill="white" stroke="#bb2d2a" stroke-width="1.3" stroke-linejoin="round"/>
<text x="479.96" y="329.20" font-size="7.27" textLength="24.35" lengthAdjust="spacingAndGlyphs" fill="#222" stroke="#222" stroke-width="0.22">LV+BTZ</text>
<polyline points="388.50,268.84 408.25,268.02 428.00,264.77 447.75,262.17 467.50,256.32 487.25,254.86 507.00,253.56" fill="none" stroke="#bb2d2a" stroke-width="1.5" stroke-dasharray="3.4,2.2"/>
<polyline points="388.50,268.84 408.25,268.02 428.00,264.77 447.75,261.85 467.50,253.89 487.25,251.94 507.00,248.36" fill="none" stroke="#6a3486" stroke-width="1.45" stroke-linejoin="round"/>
<path d="M388.50,264.50 L390.50,268.30 L386.50,268.30 Z" fill="#6a3486" stroke="#bb2d2a" stroke-width="1.05" stroke-linejoin="round"/>
<path d="M388.50,269.70 L390.50,273.50 L386.50,273.50 Z" fill="#6a3486" stroke="#bb2d2a" stroke-width="1.05" stroke-linejoin="round"/>
<path d="M408.25,264.50 L410.25,268.30 L406.25,268.30 Z" fill="#6a3486" stroke="#bb2d2a" stroke-width="1.05" stroke-linejoin="round"/>
<path d="M408.25,267.59 L410.25,271.39 L406.25,271.39 Z" fill="#6a3486" stroke="#bb2d2a" stroke-width="1.05" stroke-linejoin="round"/>
<path d="M428.00,258.65 L430.00,262.45 L426.00,262.45 Z" fill="white" stroke="#bb2d2a" stroke-width="1.05" stroke-linejoin="round"/>
<circle cx="428.00" cy="265.26" r="1.30" fill="#6a3486" stroke="none" stroke-width="0"/>
<path d="M428.00,266.12 L430.00,269.92 L426.00,269.92 Z" fill="white" stroke="#bb2d2a" stroke-width="1.05" stroke-linejoin="round"/>
<path d="M447.75,258.00 L449.75,261.80 L445.75,261.80 Z" fill="#6a3486" stroke="#bb2d2a" stroke-width="1.05" stroke-linejoin="round"/>
<path d="M447.75,261.57 L449.75,265.37 L445.75,265.37 Z" fill="#6a3486" stroke="#bb2d2a" stroke-width="1.05" stroke-linejoin="round"/>
<circle cx="467.50" cy="251.29" r="1.30" fill="#6a3486" stroke="none" stroke-width="0"/>
<line x1="467.50" y1="250.80" x2="467.50" y2="257.30" stroke="#6a3486" stroke-width="1.7" />
<path d="M467.50,254.10 L469.50,257.90 L465.50,257.90 Z" fill="#6a3486" stroke="#bb2d2a" stroke-width="1.05" stroke-linejoin="round"/>
<path d="M467.50,257.19 L469.50,260.99 L465.50,260.99 Z" fill="white" stroke="#bb2d2a" stroke-width="1.05" stroke-linejoin="round"/>
<line x1="487.25" y1="247.60" x2="487.25" y2="257.30" stroke="#6a3486" stroke-width="1.7" />
<path d="M487.25,248.25 L489.25,252.05 L485.25,252.05 Z" fill="#6a3486" stroke="#bb2d2a" stroke-width="1.05" stroke-linejoin="round"/>
<path d="M487.25,255.56 L489.25,259.36 L485.25,259.36 Z" fill="white" stroke="#bb2d2a" stroke-width="1.05" stroke-linejoin="round"/>
<circle cx="507.00" cy="245.76" r="1.30" fill="#6a3486" stroke="none" stroke-width="0"/>
<line x1="507.00" y1="246.00" x2="507.00" y2="252.00" stroke="#6a3486" stroke-width="1.7" />
<path d="M507.00,249.87 L509.00,253.67 L505.00,253.67 Z" fill="#6a3486" stroke="#bb2d2a" stroke-width="1.05" stroke-linejoin="round"/>
<path d="M507.00,255.24 L509.00,259.04 L505.00,259.04 Z" fill="white" stroke="#bb2d2a" stroke-width="1.05" stroke-linejoin="round"/>
<rect x="0" y="0" width="520" height="1.75" fill="#454545"/>
<rect x="518" y="0" width="2" height="373" fill="#474747"/>
<rect x="0" y="370.8" width="520" height="2.2" fill="#505050"/>
<rect x="0" y="0" width="1.15" height="373" fill="#121212"/>
</svg>
</body></html>
